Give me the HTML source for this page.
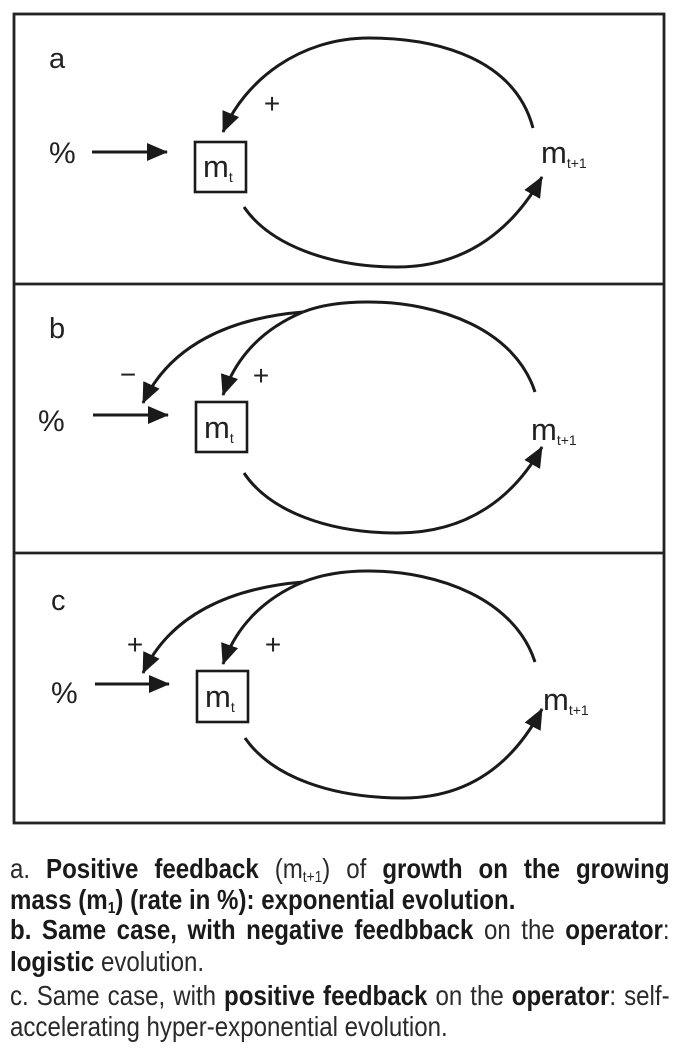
<!DOCTYPE html>
<html><head><meta charset="utf-8"><style>
body{margin:0;background:#fff;width:679px;height:1052px;overflow:hidden;position:relative}
svg{position:absolute;left:0;top:0}
.cap{position:absolute;left:10px;width:767px;transform:scaleX(0.86);transform-origin:0 0;font-family:"Liberation Sans Narrow","Liberation Sans",sans-serif;font-size:28px;color:#2a2a2a;white-space:nowrap;line-height:31px}
.j{text-align:justify;text-align-last:justify}
b{color:#1a1a1a}
sub{font-size:16px;vertical-align:-4px;line-height:0}
</style></head><body>
<svg width="679" height="1052" viewBox="0 0 679 1052" font-family="Liberation Sans, sans-serif" fill="#222">
<defs>
<marker id="ah" markerWidth="24" markerHeight="20" refX="20" refY="9" orient="auto" markerUnits="userSpaceOnUse">
<path d="M0,0 L21,9 L0,18 Z" fill="#1a1a1a"/></marker>
</defs>
<g stroke="#222" stroke-width="2.8" fill="none">
<rect x="14" y="14" width="650" height="809"/>
<line x1="14" y1="284" x2="664" y2="284"/>
<line x1="14" y1="553" x2="664" y2="553"/>
</g>
<!-- panel a -->
<g stroke="#1a1a1a" stroke-width="3" fill="none">
<line x1="92" y1="152" x2="167" y2="152" marker-end="url(#ah)"/>
<rect x="195" y="142" width="51" height="50" stroke-width="2.6"/>
<path d="M533,128 C515,60 440,38 369,38 C300,38 245,80 223,132" marker-end="url(#ah)"/>
<path d="M244,207 C270,245 330,267 397,267 C470,267 515,225 542,177" marker-end="url(#ah)"/>
</g>
<text x="49" y="68" font-size="29">a</text>
<text x="49" y="163" font-size="30">%</text>
<text x="203" y="177" font-size="31">m<tspan font-size="14" dy="5">t</tspan></text>
<text x="541" y="163" font-size="31">m<tspan font-size="14" dy="5">t+1</tspan></text>
<text x="272" y="113" font-size="28" text-anchor="middle">+</text>
<!-- panel b -->
<g stroke="#1a1a1a" stroke-width="3" fill="none">
<line x1="93" y1="415" x2="168" y2="415" marker-end="url(#ah)"/>
<rect x="196" y="402" width="51" height="50" stroke-width="2.6"/>
<path d="M535,392 C515,330 440,302 368,302 C340,302 318,306 303,312" />
<path d="M303,312 C230,318 170,345 143,403" marker-end="url(#ah)"/>
<path d="M303,312 C260,330 235,360 223,395" marker-end="url(#ah)"/>
<path d="M244,473 C270,512 330,533 397,533 C470,533 515,495 542,447" marker-end="url(#ah)"/>
</g>
<text x="49" y="338" font-size="29">b</text>
<text x="38" y="431" font-size="30">%</text>
<text x="204" y="438" font-size="31">m<tspan font-size="14" dy="5">t</tspan></text>
<text x="531" y="440" font-size="31">m<tspan font-size="14" dy="5">t+1</tspan></text>
<text x="128" y="384" font-size="28" text-anchor="middle">−</text>
<text x="261" y="385" font-size="28" text-anchor="middle">+</text>
<!-- panel c -->
<g stroke="#1a1a1a" stroke-width="3" fill="none">
<line x1="95" y1="684" x2="169" y2="684" marker-end="url(#ah)"/>
<rect x="197" y="671" width="51" height="51" stroke-width="2.6"/>
<path d="M535,662 C515,600 440,571 368,571 C340,571 318,576 303,582" />
<path d="M303,582 C230,588 170,615 143,673" marker-end="url(#ah)"/>
<path d="M303,582 C260,600 235,630 223,664" marker-end="url(#ah)"/>
<path d="M245,738 C272,777 332,798 403,798 C472,798 515,760 542,709" marker-end="url(#ah)"/>
</g>
<text x="51" y="610" font-size="29">c</text>
<text x="51" y="703" font-size="30">%</text>
<text x="205" y="707" font-size="31">m<tspan font-size="14" dy="5">t</tspan></text>
<text x="543" y="710" font-size="31">m<tspan font-size="14" dy="5">t+1</tspan></text>
<text x="135" y="654" font-size="28" text-anchor="middle">+</text>
<text x="273" y="654" font-size="28" text-anchor="middle">+</text>
</svg>
<div class="cap j" style="top:853px">a. <b>Positive feedback</b> (m<sub>t+1</sub>) of <b>growth on the growing</b></div>
<div class="cap" style="top:884px"><b>mass (m<sub>1</sub>) (rate in %): exponential evolution.</b></div>
<div class="cap j" style="top:914px"><b>b. Same case, with negative feedbback</b> on the <b>operator</b>:</div>
<div class="cap" style="top:946px"><b>logistic</b> evolution.</div>
<div class="cap j" style="top:980px">c. Same case, with <b>positive feedback</b> on the <b>operator</b>: self-</div>
<div class="cap" style="top:1011px">accelerating hyper-exponential evolution.</div>
</body></html>
